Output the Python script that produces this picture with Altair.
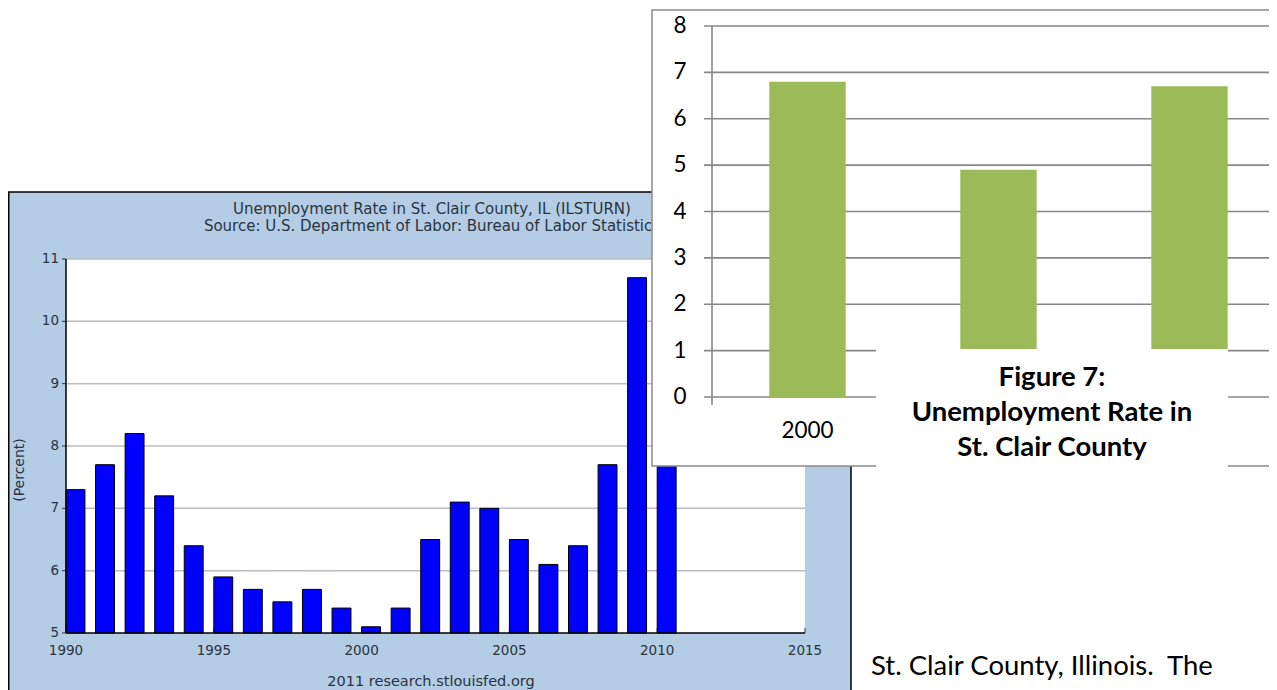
import altair as alt
import pandas as pd

# ---------------- data ----------------
fred_years = list(range(1990, 2011))
fred_rates = [7.3, 7.7, 8.2, 7.2, 6.4, 5.9, 5.7, 5.5, 5.7, 5.4, 5.1,
              5.4, 6.5, 7.1, 7.0, 6.5, 6.1, 6.4, 7.7, 10.7, 10.2]
fred_yticks = [5, 6, 7, 8, 9, 10, 11]
fred_grid = [6, 7, 8, 9, 10, 11]
fred_xticks = [1990, 1995, 2000, 2005, 2010, 2015]
fred_title = ["Unemployment Rate in St. Clair County, IL (ILSTURN)",
              "Source: U.S. Department of Labor: Bureau of Labor Statistics"]
fred_footer = "2011 research.stlouisfed.org"
fred_ylabel = "(Percent)"

ov_cats = ["2000", "2005", "2010"]
ov_vals = [6.8, 4.9, 6.7]
ov_shown_labels = ["2000"]          # the other category labels are hidden by the caption
ov_ticks = [0, 1, 2, 3, 4, 5, 6, 7, 8]
caption = ["Figure 7:", "Unemployment Rate in", "St. Clair County"]
body_text = "St. Clair County, Illinois.\u00a0 The"

W, H = 1261, 682
one = alt.Data(values=[{}])

# ---------------- scales ----------------
fx = alt.Scale(domain=[1990, 2015], range=[58, 797])
fy = alt.Scale(domain=[5, 11], range=[625, 251])
ox = alt.Scale(domain=ov_cats, range=[704, 1277], paddingInner=0.6, paddingOuter=0.3)
oy = alt.Scale(domain=[0, 8], range=[389, 18])

FRED_FONT = "DejaVu Sans"
FRED_COL = "#2a3440"
OFONT = "Lato"

fred_df = pd.DataFrame({"year": fred_years, "rate": fred_rates})
ov_df = pd.DataFrame({"cat": ov_cats, "val": ov_vals})

def rect(x, x2, y, y2, **kw):
    return alt.Chart(one).mark_rect(**kw).encode(
        x=alt.value(x), x2=alt.value(x2), y=alt.value(y), y2=alt.value(y2))

layers = []
# FRED frame
layers.append(rect(0.75, 843, 184, 690, fill="#b4cce4", stroke="black", strokeWidth=1.5))
layers.append(rect(58, 797, 251, 625, fill="white"))
# gridlines
layers.append(alt.Chart(pd.DataFrame({"v": fred_grid})).mark_rule(
    color="#bcbcbc", strokeWidth=1.5).encode(
    y=alt.Y("v:Q", scale=fy, axis=None), x=alt.value(58), x2=alt.value(797)))
# y ticks
layers.append(alt.Chart(pd.DataFrame({"v": fred_yticks})).mark_rule(
    color="#333333", strokeWidth=1).encode(
    y=alt.Y("v:Q", scale=fy, axis=None), x=alt.value(54), x2=alt.value(58)))
# x ticks
layers.append(alt.Chart(pd.DataFrame({"v": fred_xticks})).mark_rule(
    color="#333333", strokeWidth=1).encode(
    x=alt.X("v:Q", scale=fx, axis=None), y=alt.value(620), y2=alt.value(625)))
# bars
layers.append(alt.Chart(fred_df).transform_calculate(
    year_end="datum.year + 0.64", base="5").mark_rect(
    fill="#0000ff", stroke="black", strokeWidth=1).encode(
    x=alt.X("year:Q", scale=fx, axis=None), x2="year_end:Q",
    y=alt.Y("rate:Q", scale=fy, axis=None), y2="base:Q"))
# axis lines
layers.append(alt.Chart(one).mark_rule(color="black", strokeWidth=1.5).encode(
    x=alt.value(58), y=alt.value(251), y2=alt.value(625)))
layers.append(alt.Chart(one).mark_rule(color="black", strokeWidth=1.5).encode(
    y=alt.value(625), x=alt.value(58), x2=alt.value(797)))
# tick labels
layers.append(alt.Chart(pd.DataFrame({"v": fred_yticks})).mark_text(
    align="right", baseline="middle", font=FRED_FONT, fontSize=13.5, color=FRED_COL).encode(
    y=alt.Y("v:Q", scale=fy, axis=None), x=alt.value(51), text=alt.Text("v:Q", format="d")))
layers.append(alt.Chart(pd.DataFrame({"v": fred_xticks})).mark_text(
    align="center", baseline="middle", font=FRED_FONT, fontSize=13.5, color=FRED_COL).encode(
    x=alt.X("v:Q", scale=fx, axis=None), y=alt.value(643), text=alt.Text("v:Q", format="d")))
# titles
layers.append(alt.Chart(one).mark_text(
    align="center", baseline="middle", font=FRED_FONT, fontSize=15, color=FRED_COL,
    lineHeight=17).encode(x=alt.value(424), y=alt.value(201), text=alt.value(fred_title)))
layers.append(alt.Chart(one).mark_text(
    align="center", baseline="middle", font=FRED_FONT, fontSize=14.5, color=FRED_COL).encode(
    x=alt.value(423), y=alt.value(674), text=alt.value(fred_footer)))
layers.append(alt.Chart(one).mark_text(
    align="center", baseline="middle", font=FRED_FONT, fontSize=14, color=FRED_COL,
    angle=270).encode(x=alt.value(12), y=alt.value(462), text=alt.value(fred_ylabel)))

# ---------------- overlay chart ----------------
layers.append(rect(644, 1275, 2, 458, fill="white", stroke="#8c8c8c", strokeWidth=1.5))
layers.append(alt.Chart(pd.DataFrame({"v": ov_ticks})).mark_rule(
    color="#878787", strokeWidth=1.6).encode(
    y=alt.Y("v:Q", scale=oy, axis=None), x=alt.value(696), x2=alt.value(1275)))
layers.append(alt.Chart(one).mark_rule(color="#878787", strokeWidth=1.6).encode(
    x=alt.value(704), y=alt.value(18), y2=alt.value(397)))
layers.append(alt.Chart(ov_df).mark_bar(color="#9bbb59").encode(
    x=alt.X("cat:N", scale=ox, axis=None), y=alt.Y("val:Q", scale=oy, axis=None)))
layers.append(alt.Chart(pd.DataFrame({"v": ov_ticks})).mark_text(
    align="center", baseline="middle", font=OFONT, fontSize=22.5, color="black").encode(
    y=alt.Y("v:Q", scale=oy, axis=None), x=alt.value(672), text=alt.Text("v:Q", format="d")))
layers.append(alt.Chart(pd.DataFrame({"cat": ov_shown_labels})).mark_text(
    align="center", baseline="middle", font=OFONT, fontSize=22.5, color="black").encode(
    x=alt.X("cat:N", scale=ox, axis=None), y=alt.value(423), text="cat:N"))
# caption box
layers.append(rect(868, 1220, 341, 464, fill="white"))
layers.append(alt.Chart(one).mark_text(
    align="center", baseline="middle", font=OFONT, fontWeight="bold", fontSize=27.5,
    lineHeight=35, color="black").encode(
    x=alt.value(1044), y=alt.value(370), text=alt.value(caption)))
# body text
layers.append(alt.Chart(one).mark_text(
    align="left", baseline="middle", font=OFONT, fontSize=27.5, color="black").encode(
    x=alt.value(863), y=alt.value(659), text=alt.value(body_text)))

chart = alt.layer(*layers).resolve_scale(x="independent", y="independent").properties(
    width=W, height=H, padding=0, autosize="none", background="white"
).configure_view(stroke=None)

chart.save("out.html", embed_options={"renderer": "svg", "actions": False})
